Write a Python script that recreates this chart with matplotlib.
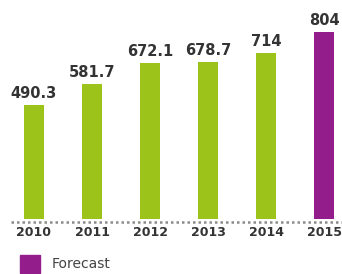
import matplotlib
matplotlib.use("Agg")
import matplotlib.pyplot as plt
from matplotlib.patches import Rectangle

years = ["2010", "2011", "2012", "2013", "2014", "2015"]
values = [490.3, 581.7, 672.1, 678.7, 714, 804]
labels = ["490.3", "581.7", "672.1", "678.7", "714", "804"]
forecast = [False, False, False, False, False, True]

green = "#9bc31a"
purple = "#931e8b"
text_col = "#333333"

W, H = 342, 274
fig = plt.figure(figsize=(W / 100, H / 100), dpi=100)
ax = fig.add_axes([0, 0, 1, 1])

# pixel layout: first bar centre at x=34, spacing 58 px; baseline 219 px from top
scale = 0.232  # px per unit
base_px = 219
ax.set_xlim(-34 / 58, (W - 34) / 58)
ax.set_ylim(-(H - base_px) / scale, base_px / scale)
ax.axis("off")

x = list(range(len(years)))
colors = [purple if f else green for f in forecast]
ax.bar(x, values, width=0.34, color=colors, zorder=2)

for xi, v, lab in zip(x, values, labels):
    ax.text(xi, v + 4 / scale, lab, ha="center", va="bottom",
            fontsize=10.5, fontweight="bold", color=text_col)

ax.hlines(-2.5 / scale, -0.4, 5.4, colors="#8a8a8a", linestyles=(0, (1, 1.2)),
          linewidth=1.8, zorder=1)

for xi, y in zip(x, years):
    ax.text(xi, -(233 - base_px) / scale, y, ha="center", va="center",
            fontsize=9, fontweight="bold", color=text_col)

# legend
fig.patches.append(Rectangle((20 / W, 1 / H), 20 / W, 18 / H,
                             transform=fig.transFigure, color=purple))
fig.text(52 / W, (H - 264) / H, "Forecast", ha="left", va="center",
         fontsize=10, color="#444444")

fig.savefig("out.png", dpi=100)
